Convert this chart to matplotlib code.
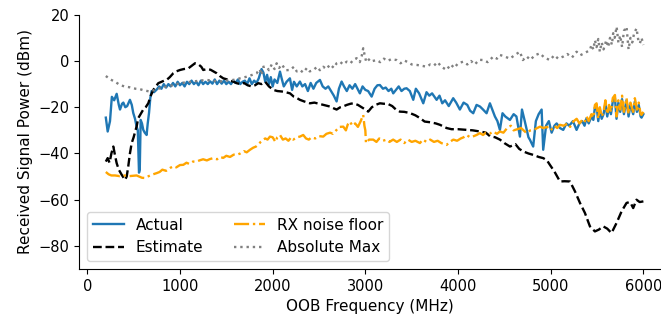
import matplotlib.pyplot as plt

OUTPUT_FILE = "out.png"

# Actual received power (MHz, dBm)
actual_freq = [200, 220, 245, 265, 290, 317, 340, 353, 375, 389, 410, 430, 460, 480, 496, 515, 532, 545, 558, 566,
               576, 590, 604, 620, 640, 652, 666, 680, 694, 720, 748, 775, 800, 825, 850, 875, 900, 925, 950, 975,
               1000, 1025, 1050, 1075, 1100, 1125, 1150, 1175, 1200, 1225, 1250, 1275, 1300, 1325, 1350, 1375, 1400,
               1425, 1450, 1475, 1500, 1525, 1550, 1575, 1600, 1625, 1650, 1675, 1700, 1725, 1750, 1775, 1800, 1825,
               1850, 1880, 1900, 1920, 1940, 1960, 1980, 2000, 2020, 2050, 2079, 2100, 2120, 2150, 2186, 2210, 2230,
               2260, 2294, 2320, 2350, 2380, 2410, 2440, 2470, 2510, 2540, 2570, 2600, 2630, 2660, 2690, 2715, 2744,
               2770, 2800, 2830, 2860, 2890, 2915, 2941, 2970, 3000, 3030, 3068, 3100, 3130, 3157, 3190, 3220, 3250,
               3280, 3301, 3330, 3360, 3390, 3420, 3445, 3480, 3517, 3545, 3580, 3625, 3660, 3690, 3720, 3769, 3800,
               3830, 3860, 3900, 3948, 3980, 4020, 4060, 4100, 4130, 4164, 4200, 4237, 4270, 4308, 4344, 4370, 4398,
               4425, 4452, 4480, 4510, 4560, 4600, 4630, 4668, 4690, 4720, 4760, 4775, 4811, 4840, 4870, 4902, 4919,
               4950, 4980, 5010, 5040, 5064, 5100, 5135, 5170, 5200, 5240, 5279, 5310, 5340, 5365, 5387, 5410, 5440,
               5460, 5477, 5495, 5513, 5530, 5550, 5570, 5590, 5610, 5630, 5650, 5670, 5693, 5710, 5730, 5750, 5770,
               5790, 5818, 5840, 5860, 5890, 5908, 5930, 5950, 5970, 5980, 6000]
actual_dbm = [-24.5, -30.5, -26, -15.5, -17, -14.2, -19, -21, -18.5, -18, -20, -19.5, -16.8, -19, -22.5, -25, -28.4,
              -30, -48.3, -47, -25.5, -27, -29.8, -31, -32, -27, -22.5, -16, -13, -13.5, -12.4, -11, -12, -10, -11.5,
              -10, -11, -9.5, -11, -9, -10.5, -9.5, -11, -9, -10, -8.5, -10, -9, -10.5, -8.5, -10, -9, -10, -8.8,
              -9.8, -8, -10, -8.5, -9.8, -8.5, -10, -9, -10, -8.5, -9.5, -8, -10, -9, -8.5, -10, -7.5, -10, -8.5,
              -9.5, -7.5, -3.5, -5, -9, -6, -10, -7, -11, -8, -9.5, -4.6, -8, -11, -9, -7.5, -12.5, -9, -11, -8.9,
              -11, -10, -13, -9.5, -12, -9.5, -8.2, -11, -12, -11, -13, -15, -17.5, -12, -8.9, -11, -13, -10.5, -12,
              -10, -12, -14, -11, -12.5, -13, -15.4, -12, -10.5, -10.4, -12, -11.5, -13, -12, -14, -12.5, -11, -13,
              -12, -11.8, -13, -16.8, -12, -14, -18.3, -13.5, -15, -14, -16.8, -15, -18.3, -17, -19.5, -16.1, -18,
              -21, -18, -19, -21.5, -22.6, -19, -19.7, -21, -22.6, -18.3, -21, -24, -26, -29.8, -22.6, -24, -25.5,
              -23, -24, -32.7, -21, -26, -33, -34, -37, -26, -23, -21, -38.4, -28, -26, -31, -28, -27, -29, -29.8,
              -27, -28, -26, -29.8, -27, -26, -28, -24.7, -27, -24, -25.5, -20, -19.5, -26, -21, -25, -23, -18.5,
              -24, -20, -23, -17.5, -16, -25, -18, -22, -16.5, -23, -17, -24, -19, -23, -17.5, -22, -19, -24, -24.5,
              -23]

# Model estimate
estimate_freq = [200, 220, 240, 260, 281, 300, 317, 340, 371, 407, 425, 442, 460, 479, 500, 520, 532, 550, 575, 604,
                 630, 658, 685, 712, 740, 766, 800, 830, 856, 890, 928, 960, 1000, 1040, 1090, 1130, 1162, 1200, 1230,
                 1251, 1290, 1330, 1360, 1396, 1430, 1467, 1510, 1540, 1580, 1612, 1650, 1690, 1730, 1773, 1810, 1845,
                 1880, 1920, 1960, 2007, 2050, 2100, 2140, 2187, 2230, 2260, 2294, 2340, 2402, 2450, 2500, 2550, 2618,
                 2660, 2690, 2730, 2770, 2800, 2840, 2870, 2920, 2960, 3000, 3031, 3070, 3110, 3157, 3200, 3240, 3290,
                 3330, 3372, 3420, 3480, 3540, 3589, 3640, 3700, 3760, 3805, 3877, 3930, 4000, 4092, 4160, 4236, 4300,
                 4344, 4400, 4452, 4500, 4560, 4620, 4660, 4703, 4760, 4811, 4870, 4919, 4960, 4991, 5040, 5100, 5150,
                 5208, 5262, 5316, 5369, 5423, 5477, 5520, 5566, 5610, 5656, 5711, 5765, 5818, 5850, 5870, 5890, 5926,
                 5960, 6000]
estimate_dbm = [-43.5, -42, -44, -40, -37, -41, -44.2, -47, -49.2, -51.4, -50, -45.6, -40, -35.5, -33, -30, -28.4,
                -24.7, -23, -21, -20, -18.3, -15, -12.5, -11, -9.6, -9, -8.5, -8.2, -7, -5.3, -4.5, -3.9, -3.5, -3.2,
                -2, -1, -1.5, -2.5, -3.9, -3.5, -3.8, -4.5, -5.3, -6.5, -7.5, -8, -8.5, -9, -9.6, -10, -9.5, -10.5,
                -11, -10.5, -9.6, -10, -9, -11, -12.5, -13, -13.2, -13.5, -14, -15.5, -16, -16.8, -17.5, -18.3, -18,
                -18.5, -19, -19.7, -20.5, -21, -20, -19.5, -19, -18.5, -18.3, -19, -20, -21, -21.9, -20, -19, -18.3,
                -18.5, -18.5, -19.5, -21, -21.9, -22, -22.5, -23.5, -24.7, -26.2, -26.5, -27, -27.6, -29, -29.5,
                -29.5, -29.8, -30, -30.5, -31, -32.5, -33, -34, -35.5, -37, -36, -38, -39.1, -40, -40.6, -41.5, -42,
                -43, -44.9, -47.8, -52.1, -52, -52.1, -56.4, -61.4, -65.7, -71.5, -73.7, -72.9, -71.5, -72.5, -74.4,
                -70, -65, -61.4, -61, -62, -63.6, -60, -61, -60.7]

# Receiver noise floor
noise_freq = [200, 230, 260, 300, 350, 400, 450, 500, 532, 560, 590, 622, 650, 680, 710, 748, 780, 810, 850, 892, 930,
              960, 1000, 1036, 1070, 1100, 1140, 1180, 1210, 1250, 1290, 1324, 1360, 1400, 1430, 1467, 1500, 1540,
              1580, 1612, 1650, 1690, 1720, 1755, 1790, 1820, 1850, 1870, 1899, 1920, 1945, 1971, 2000, 2030, 2050,
              2079, 2110, 2140, 2170, 2200, 2222, 2260, 2294, 2330, 2360, 2390, 2420, 2460, 2500, 2546, 2580, 2620,
              2650, 2690, 2720, 2762, 2790, 2810, 2834, 2860, 2890, 2920, 2950, 2977, 2990, 3000, 3007, 3040, 3085,
              3120, 3150, 3190, 3230, 3260, 3300, 3340, 3380, 3420, 3460, 3500, 3540, 3589, 3620, 3660, 3700, 3740,
              3780, 3820, 3877, 3910, 3950, 3990, 4030, 4060, 4092, 4130, 4170, 4200, 4236, 4270, 4300, 4340, 4380,
              4420, 4452, 4490, 4530, 4570, 4600, 4640, 4680, 4740, 4780, 4830, 4884, 4920, 4960, 5000, 5040, 5070,
              5100, 5140, 5180, 5210, 5243, 5280, 5310, 5340, 5365, 5387, 5410, 5440, 5460, 5477, 5495, 5513, 5530,
              5550, 5570, 5590, 5610, 5630, 5650, 5670, 5693, 5710, 5730, 5750, 5770, 5790, 5818, 5840, 5860, 5890,
              5908, 5930, 5950, 5970, 5980, 6000]
noise_dbm = [-48, -49, -49.5, -49.5, -49.8, -49.5, -49.8, -49.6, -49.5, -50, -50.5, -50.6, -50, -49.5, -49, -48.5,
             -48, -47, -47.5, -46.3, -45.5, -46, -45, -44.9, -44, -44.5, -43.5, -43.5, -43, -42.5, -43, -42.4, -42,
             -42.5, -41.5, -41.9, -41, -41.5, -40.5, -40.6, -40, -39, -39.5, -38.4, -37.5, -37, -36, -35, -34, -33.5,
             -34, -32.7, -33, -35, -33, -32, -34, -33.5, -34.5, -33, -34, -33, -32.7, -32, -33.5, -34, -33, -33.5,
             -32.5, -32.7, -31.5, -31, -31.5, -29.8, -28.5, -28.4, -30, -27.5, -26.2, -28, -27, -28.5, -26, -23.3,
             -28, -30, -35.5, -34, -34, -35, -33.5, -34.5, -34, -35, -34, -35, -34, -35.5, -34, -35, -34.5, -35.5,
             -34, -35, -34, -35, -34.5, -35.5, -36.3, -35, -34, -34.5, -33.5, -33, -32, -33, -32.5, -32, -31.2, -32,
             -31, -31.5, -30.5, -31.5, -30.5, -31, -29, -28, -30, -29.5, -29, -31.2, -30, -29.5, -28.4, -29, -28.5,
             -30, -28, -29, -27.6, -28, -27, -28.5, -26.2, -25, -27, -25.5, -26.5, -24, -26, -23, -24.5, -19, -18.3,
             -25, -20, -24, -22, -17, -23, -19, -22, -16, -14.7, -24, -17, -21, -15, -22, -16, -23, -18, -22, -16.1,
             -21, -18, -23, -23.3, -22]

# Absolute maximum
absmax_freq = [200, 250, 300, 353, 400, 460, 520, 568, 620, 676, 730, 784, 840, 892, 950, 1000, 1070, 1143, 1210, 1288,
               1360, 1431, 1500, 1575, 1650, 1720, 1780, 1827, 1860, 1880, 1900, 1935, 1960, 1990, 2020, 2043, 2070,
               2100, 2140, 2187, 2230, 2260, 2294, 2330, 2370, 2400, 2440, 2480, 2510, 2546, 2580, 2620, 2660, 2690,
               2726, 2760, 2800, 2840, 2870, 2906, 2940, 2960, 2977, 2990, 3010, 3050, 3080, 3122, 3160, 3200, 3240,
               3280, 3337, 3380, 3420, 3460, 3500, 3553, 3600, 3661, 3700, 3740, 3780, 3820, 3877, 3920, 3960, 4000,
               4056, 4100, 4140, 4180, 4230, 4272, 4320, 4380, 4420, 4452, 4500, 4560, 4610, 4668, 4700, 4740, 4780,
               4830, 4884, 4930, 4991, 5040, 5080, 5135, 5180, 5230, 5279, 5320, 5370, 5423, 5440, 5460, 5477, 5495,
               5513, 5530, 5550, 5570, 5600, 5620, 5640, 5660, 5674, 5690, 5711, 5730, 5750, 5770, 5790, 5818, 5840,
               5860, 5880, 5900, 5926, 5945, 5962, 5980, 6000]
absmax_dbm = [-6.5, -8, -9, -10.4, -11, -11.4, -12, -12.2, -12.8, -13.2, -12.5, -11.8, -11.2, -10.8, -10.2, -9.6, -9.2,
              -8.9, -8.5, -8.2, -8.6, -8.9, -8.5, -8.2, -7.5, -6.8, -6, -5.3, -3.5, -6, -2.5, -2.5, -4, -1.5, -3.5,
              -1, -3, -1.5, -4, -3.9, -2.5, -4.5, -3.9, -5, -3, -4.5, -3.9, -2.5, -4, -2.5, -3.5, -1.5, -3, -1, -0.3,
              -1.5, -0.3, -1, 0.5, 1.2, -0.5, 2, 5.5, 3, -0.5, 1, 0, 0.4, -0.5, 1, 0, 0.8, 0.4, -1, 0.2, -0.5, -1.5,
              -1.7, -2, -2.5, -1.5, -2, -0.5, -2.5, -3.9, -1.5, -3, -1, -0.3, -1.5, 0, -1.5, 0.5, 0.4, -0.5, 1.9, 1,
              2.6, 2, 1, 2.5, 4, 0.4, 2, 0.5, 2.5, 3.3, 1.5, 0.4, 2.5, 1, 1.9, 3, 1.5, 4, 2.5, 3.5, 4.7, 7, 5, 9, 6,
              9.5, 4, 8, 5, 9, 6, 10, 7, 12, 10, 14.8, 8, 11, 6, 13, 14.8, 5, 10, 8, 12, 14.1, 9, 7.6, 10, 6.9]

plt.rcParams["font.size"] = 11
plt.rcParams["xtick.labelsize"] = 10.5
plt.rcParams["ytick.labelsize"] = 10.5

fig = plt.figure(figsize=(6.61, 3.2), dpi=100)
ax = fig.add_axes([0.12, 0.159, 0.88, 0.795])

ax.plot(actual_freq, actual_dbm, color="#1f77b4", lw=1.7, label="Actual")
ax.plot(estimate_freq, estimate_dbm, "k--", lw=1.7, label="Estimate")
ax.plot(noise_freq, noise_dbm, color="orange", ls="-.", lw=1.7, label="RX noise floor")
ax.plot(absmax_freq, absmax_dbm, color="gray", ls=":", lw=1.7, label="Absolute Max")

ax.set_xlim(-86, 6190)
ax.set_ylim(-90, 20)
ax.spines["top"].set_visible(False)
ax.spines["right"].set_visible(False)
ax.set_xlabel("OOB Frequency (MHz)")
ax.set_ylabel("Received Signal Power (dBm)")
ax.legend(loc="lower left", ncol=2)

fig.savefig(OUTPUT_FILE)
